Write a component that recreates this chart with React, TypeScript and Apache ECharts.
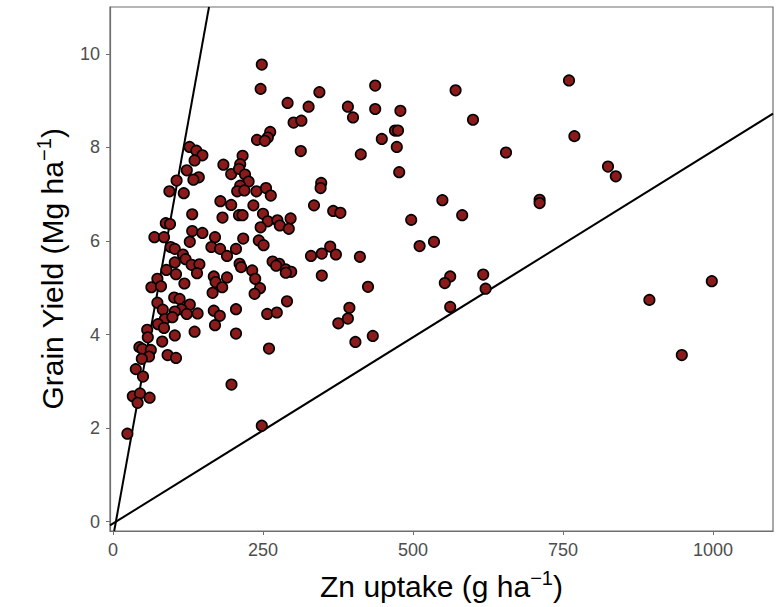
import React, { useEffect, useRef } from "react";
import * as echarts from "echarts";

// Zn uptake (g ha^-1)
const ZN_UPTAKE = [
  127.6, 139, 149, 136, 184, 123, 197, 143, 134, 106, 94, 118, 179, 197, 132, 182.5, 88, 95, 69, 85,
  132, 149, 170, 128, 96, 103, 164, 178.5, 190, 116.5, 121, 103, 131, 144, 89, 105, 140, 168, 190, 74,
  119, 64, 80, 171, 182, 166, 102, 111, 74, 128, 83, 114, 103, 123, 141, 168, 178, 86.5, 99, 75,
  85, 170, 57, 136, 58, 103, 82, 44, 49, 63, 60, 91, 105, 48, 38, 50, 33, 45, 41, 61, 197.5, 24,
  248, 246, 344, 291, 326, 391.5, 400, 301, 314, 262, 258, 240, 253, 313, 216, 212, 210, 220, 226, 212,
  207, 219, 239, 255, 263, 347, 346, 234, 335, 367, 379, 210, 216, 250, 258, 274, 278, 296, 293, 246,
  217, 243, 251, 362, 205,
  330, 348, 371.5, 211, 213.5, 266, 277, 272, 288, 297, 288, 232, 237, 245, 236, 348, 290, 205, 257, 273,
  394, 391.5, 375.5, 205, 260, 404, 248,
  437, 571, 437, 479, 600, 470, 475, 448, 473, 413, 655, 477, 549, 582, 497, 535, 511, 411.5, 562, 553,
  617, 621, 425, 562, 433,
  760, 769, 825, 838, 711, 711, 894, 948, 998,
];

// Grain yield (Mg ha^-1)
const GRAIN_YIELD = [
  8.01, 7.93, 7.83, 7.72, 7.63, 7.51, 7.43, 7.36, 7.31, 7.29, 7.06, 7.02, 6.85, 6.77, 6.57, 6.5, 6.38, 6.36, 6.08, 6.08,
  6.21, 6.17, 6.08, 5.98, 5.87, 5.83, 5.87, 5.83, 5.68, 5.71, 5.61, 5.54, 5.49, 5.5, 5.38, 5.29, 5.31, 5.24, 5.22, 5.19,
  5.09, 5.01, 5.03, 5.12, 5.01, 4.89, 4.79, 4.76, 4.68, 4.64, 4.53, 4.54, 4.49, 4.44, 4.45, 4.51, 4.4, 4.33, 4.37, 4.22,
  4.14, 4.2, 4.1, 4.06, 3.94, 3.98, 3.85, 3.73, 3.69, 3.67, 3.53, 3.56, 3.5, 3.48, 3.26, 3.1, 2.68, 2.74, 2.54, 2.65, 2.93, 1.88,
  9.77, 9.25, 9.18, 8.95, 8.87, 8.87, 8.64, 8.53, 8.57, 8.33, 8.21, 8.16, 8.14, 7.92, 7.82, 7.64, 7.54, 7.42, 7.27, 7.18,
  7.06, 7.08, 7.06, 7.13, 6.97, 7.24, 7.13, 6.76, 6.76, 6.64, 6.6, 6.55, 6.55, 6.58, 6.42, 6.44, 6.33, 6.48, 6.26, 6.29,
  6.05, 6.01, 5.91, 5.88, 5.83,
  5.68, 5.73, 5.71, 5.51, 5.44, 5.56, 5.51, 5.47, 5.39, 5.34, 5.32, 5.37, 5.19, 4.99, 4.87, 5.26, 4.71, 4.54, 4.44, 4.47,
  4.57, 4.34, 4.24, 4.02, 3.7, 3.84, 2.05,
  9.32, 9.22, 8.82, 8.78, 8.59, 8.36, 8.36, 8.18, 8.01, 7.85, 7.89, 7.47, 6.87, 6.55, 6.45, 5.98, 5.89, 5.66, 5.24, 5.1,
  5.28, 4.98, 5.02, 4.59, 3.97,
  9.43, 8.24, 7.59, 7.38, 6.88, 6.81, 4.74, 3.56, 5.14,
];

// Boundary lines (maximum accumulation / maximum dilution), endpoints
const ACCUM_LINE_X = [2, 160];
const ACCUM_LINE_Y = [-0.2, 11];
const DILUTION_LINE_X = [-5, 1100];
const DILUTION_LINE_Y = [-0.08, 8.72];

const X_TICKS = [0, 250, 500, 750, 1000];
const Y_TICKS = [0, 2, 4, 6, 8, 10];

const FONT = "Liberation Sans, Arial, sans-serif";
const AXIS_GREY = "#6e6e6e";
const LABEL_GREY = "#4d4d4d";

export default function App() {
  const ref = useRef<HTMLDivElement>(null);

  useEffect(() => {
    document.body.style.margin = "0";
    if (!ref.current) return;
    const chart = echarts.init(ref.current, undefined, { renderer: "svg" });

    const points = ZN_UPTAKE.map((x, i) => [x, GRAIN_YIELD[i]]);
    const accum = ACCUM_LINE_X.map((x, i) => [x, ACCUM_LINE_Y[i]]);
    const dilution = DILUTION_LINE_X.map((x, i) => [x, DILUTION_LINE_Y[i]]);

    const nameStyle = {
      fontSize: 30,
      color: "#000",
      fontFamily: FONT,
      rich: {
        sup: { fontSize: 20, color: "#000", fontFamily: FONT, padding: [0, 0, 16, 0] },
      },
    };

    const tickLabel = (v: number) => String(v);

    chart.setOption({
      animation: false,
      grid: {
        left: 110,
        right: 8,
        top: 7,
        bottom: 76,
        show: true,
        borderColor: AXIS_GREY,
        borderWidth: 1.2,
        backgroundColor: "transparent",
      },
      xAxis: {
        type: "value",
        min: -5,
        max: 1100,
        axisLine: { show: true, onZero: false, lineStyle: { color: AXIS_GREY, width: 1.2 } },
        axisTick: { show: true, length: 4, lineStyle: { color: AXIS_GREY }, customValues: X_TICKS },
        axisLabel: {
          customValues: X_TICKS,
          formatter: tickLabel,
          color: LABEL_GREY,
          fontSize: 18,
          margin: 10,
          fontFamily: FONT,
        },
        splitLine: { show: false },
        name: "Zn uptake (g ha{sup|−1})",
        nameLocation: "middle",
        nameGap: 37,
        nameTextStyle: nameStyle,
      },
      yAxis: {
        type: "value",
        min: -0.2,
        max: 11,
        axisLine: { show: true, onZero: false, lineStyle: { color: AXIS_GREY, width: 1.2 } },
        axisTick: { show: true, length: 4, lineStyle: { color: AXIS_GREY }, customValues: Y_TICKS },
        axisLabel: {
          customValues: Y_TICKS,
          formatter: tickLabel,
          color: LABEL_GREY,
          fontSize: 18,
          margin: 10,
          fontFamily: FONT,
        },
        splitLine: { show: false },
        name: "Grain Yield (Mg ha{sup|−1})",
        nameLocation: "middle",
        nameRotate: 90,
        nameGap: 40,
        nameTextStyle: nameStyle,
      },
      series: [
        {
          type: "line",
          data: accum,
          showSymbol: false,
          symbol: "none",
          lineStyle: { color: "#000", width: 2 },
          clip: true,
          z: 1,
        },
        {
          type: "line",
          data: dilution,
          showSymbol: false,
          symbol: "none",
          lineStyle: { color: "#000", width: 2 },
          clip: true,
          z: 1,
        },
        {
          type: "scatter",
          data: points,
          symbol: "circle",
          symbolSize: 10.5,
          itemStyle: { color: "#8b1a1a", borderColor: "#000", borderWidth: 1.6, opacity: 1 },
          z: 2,
        },
      ],
    });

    return () => chart.dispose();
  }, []);

  return <div ref={ref} style={{ width: 781, height: 607 }} />;
}
